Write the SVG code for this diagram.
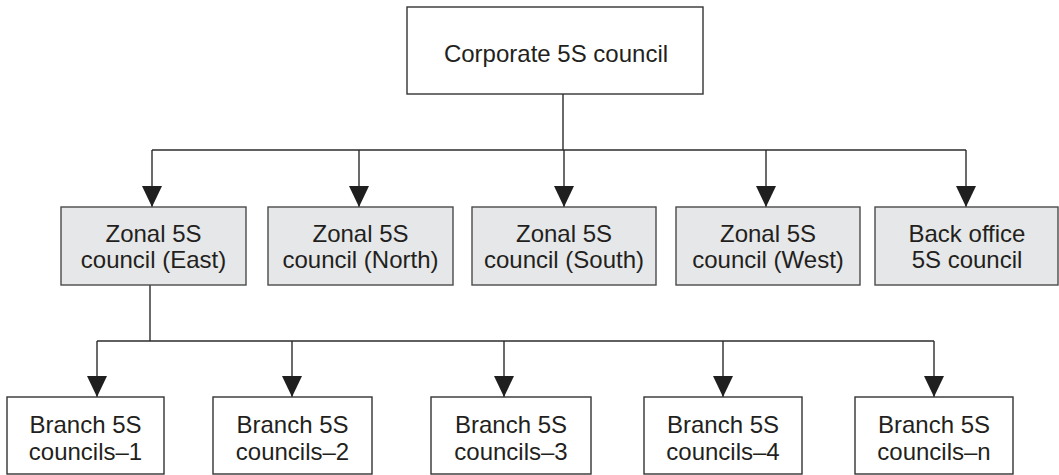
<svg xmlns="http://www.w3.org/2000/svg" width="1059" height="475" viewBox="0 0 1059 475">
<style>
.box{fill:#ffffff;stroke:#333333;stroke-width:1.4}
.zone{fill:#e6e7e8;stroke:#4a4a4a;stroke-width:1.4}
.lbl{font-family:"Liberation Sans",Arial,sans-serif;font-size:24px;fill:#231f20;text-anchor:middle}
.conn{stroke:#2b2b2b;stroke-width:1.4;fill:none}
</style>
<defs>
<marker id="arr" viewBox="0 0 21 20" refX="21" refY="10" markerWidth="21" markerHeight="20" markerUnits="userSpaceOnUse" orient="auto">
<path d="M0,0 L21,10 L0,20 z" fill="#1f1f1f"/>
</marker>
</defs>
<g id="connectors">
<line class="conn" x1="563" y1="94" x2="563" y2="150"/>
<line class="conn" x1="152" y1="150" x2="966" y2="150"/>
<line class="conn" x1="152" y1="150" x2="152" y2="207" marker-end="url(#arr)"/>
<line class="conn" x1="359" y1="150" x2="359" y2="207" marker-end="url(#arr)"/>
<line class="conn" x1="564" y1="150" x2="564" y2="207" marker-end="url(#arr)"/>
<line class="conn" x1="766" y1="150" x2="766" y2="207" marker-end="url(#arr)"/>
<line class="conn" x1="966" y1="150" x2="966" y2="207" marker-end="url(#arr)"/>
<line class="conn" x1="150" y1="285" x2="150" y2="341"/>
<line class="conn" x1="97" y1="341" x2="934" y2="341"/>
<line class="conn" x1="97" y1="341" x2="97" y2="397" marker-end="url(#arr)"/>
<line class="conn" x1="292" y1="341" x2="292" y2="397" marker-end="url(#arr)"/>
<line class="conn" x1="504" y1="341" x2="504" y2="397" marker-end="url(#arr)"/>
<line class="conn" x1="723" y1="341" x2="723" y2="397" marker-end="url(#arr)"/>
<line class="conn" x1="934" y1="341" x2="934" y2="397" marker-end="url(#arr)"/>
</g>
<g id="corporate">
<rect class="box" x="407" y="7" width="296" height="87"/>
<text class="lbl" x="556" y="62">Corporate 5S council</text>
</g>
<g id="zonal-east">
<rect class="zone" x="61" y="207" width="185" height="78"/>
<text class="lbl" x="153.5" y="242">Zonal 5S</text>
<text class="lbl" x="153.5" y="268">council (East)</text>
</g>
<g id="zonal-north">
<rect class="zone" x="268" y="207" width="185" height="78"/>
<text class="lbl" x="360.5" y="242">Zonal 5S</text>
<text class="lbl" x="360.5" y="268">council (North)</text>
</g>
<g id="zonal-south">
<rect class="zone" x="472" y="207" width="184" height="78"/>
<text class="lbl" x="564" y="242">Zonal 5S</text>
<text class="lbl" x="564" y="268">council (South)</text>
</g>
<g id="zonal-west">
<rect class="zone" x="676" y="207" width="184" height="78"/>
<text class="lbl" x="768" y="242">Zonal 5S</text>
<text class="lbl" x="768" y="268">council (West)</text>
</g>
<g id="back-office">
<rect class="zone" x="875" y="207" width="183" height="78"/>
<text class="lbl" x="967" y="242">Back office</text>
<text class="lbl" x="967" y="268">5S council</text>
</g>
<g id="branch-1">
<rect class="box" x="7" y="397" width="157" height="77"/>
<text class="lbl" x="85.5" y="433">Branch 5S</text>
<text class="lbl" x="85.5" y="460">councils–1</text>
</g>
<g id="branch-2">
<rect class="box" x="213" y="397" width="159" height="77"/>
<text class="lbl" x="292.5" y="433">Branch 5S</text>
<text class="lbl" x="292.5" y="460">councils–2</text>
</g>
<g id="branch-3">
<rect class="box" x="431" y="397" width="160" height="77"/>
<text class="lbl" x="511" y="433">Branch 5S</text>
<text class="lbl" x="511" y="460">councils–3</text>
</g>
<g id="branch-4">
<rect class="box" x="644" y="397" width="158" height="77"/>
<text class="lbl" x="723" y="433">Branch 5S</text>
<text class="lbl" x="723" y="460">councils–4</text>
</g>
<g id="branch-n">
<rect class="box" x="855" y="397" width="158" height="77"/>
<text class="lbl" x="934" y="433">Branch 5S</text>
<text class="lbl" x="934" y="460">councils–n</text>
</g>
</svg>
